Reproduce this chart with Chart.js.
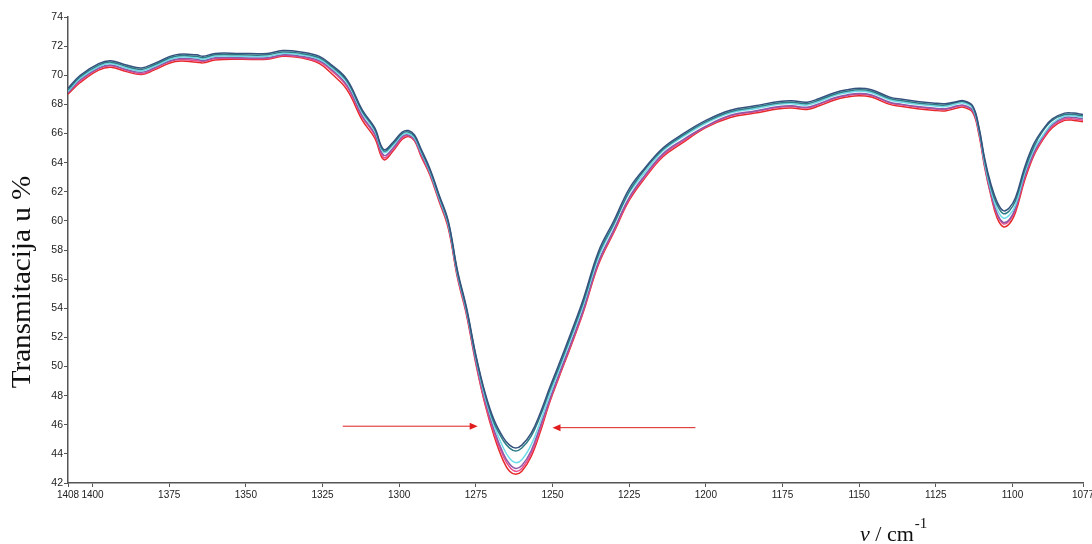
<!DOCTYPE html>
<html>
<head>
<meta charset="utf-8">
<script src="https://cdn.jsdelivr.net/npm/chart.js@4/dist/chart.umd.min.js"></script>
<style>
  html, body { margin: 0; padding: 0; background: #fff; }
  #wrap { width: 1092px; height: 544px; position: relative; }
</style>
</head>
<body>
<div id="wrap"><canvas id="irChart"></canvas></div>
<script>
// wavenumbers (cm-1)
const wavenumbers = [
  1408, 1404, 1398, 1394, 1389, 1384, 1380, 1373, 1366, 1364,
  1360, 1352, 1343, 1338, 1332, 1326, 1322, 1317, 1312, 1308,
  1305, 1302, 1299, 1297, 1295, 1293, 1290, 1287, 1284, 1281,
  1278, 1275, 1272, 1269, 1266, 1264, 1262, 1260, 1257, 1254,
  1251, 1248, 1244, 1240, 1235, 1230, 1225, 1220, 1214, 1208,
  1200, 1192, 1184, 1176, 1172, 1167, 1163, 1158, 1154, 1150,
  1146, 1140, 1136, 1131, 1126, 1122, 1118, 1116, 1113, 1111,
  1109, 1107, 1105, 1103, 1101, 1099, 1096, 1093, 1090, 1087,
  1083, 1080, 1077
];

// transmittance (%) per spectrum
const navySeries = [
  69.1, 70.0, 70.8, 71.0, 70.7, 70.5, 70.8, 71.4, 71.4, 71.3,
  71.5, 71.5, 71.5, 71.7, 71.6, 71.3, 70.7, 69.7, 67.6, 66.4,
  64.9, 65.4, 66.1, 66.2, 65.9, 65.0, 63.6, 61.8, 60.0, 56.6,
  54.0, 50.8, 48.2, 46.3, 45.1, 44.6, 44.4, 44.6, 45.4, 46.8,
  48.5, 50.1, 52.3, 54.6, 57.9, 60.0, 62.2, 63.6, 65.0, 65.9,
  66.9, 67.6, 67.9, 68.2, 68.25, 68.15, 68.4, 68.8, 69.0, 69.1,
  69.0, 68.5, 68.35, 68.2, 68.1, 68.05, 68.2, 68.25, 67.9, 66.5,
  64.2, 62.5, 61.3, 60.7, 60.9, 61.6, 63.7, 65.3, 66.3, 67.0,
  67.4, 67.4, 67.3
];
const tealSeries = [
  69.0, 69.9, 70.7, 70.9, 70.6, 70.4, 70.7, 71.3, 71.3, 71.2,
  71.4, 71.4, 71.4, 71.6, 71.5, 71.2, 70.6, 69.6, 67.5, 66.3,
  64.8, 65.3, 66.0, 66.1, 65.8, 64.9, 63.5, 61.7, 59.9, 56.5,
  53.9, 50.7, 48.1, 46.1, 44.9, 44.4, 44.2, 44.4, 45.2, 46.6,
  48.3, 49.9, 52.1, 54.4, 57.7, 59.8, 62.0, 63.5, 64.9, 65.8,
  66.8, 67.5, 67.8, 68.1, 68.15, 68.05, 68.3, 68.7, 68.9, 69.0,
  68.9, 68.4, 68.25, 68.1, 68.0, 67.95, 68.15, 68.2, 67.85, 66.4,
  64.1, 62.3, 61.1, 60.5, 60.7, 61.4, 63.5, 65.1, 66.2, 66.9,
  67.3, 67.3, 67.2
];
const cyanSeries = [
  68.9, 69.8, 70.6, 70.8, 70.5, 70.3, 70.6, 71.2, 71.2, 71.1,
  71.3, 71.3, 71.3, 71.5, 71.4, 71.1, 70.5, 69.5, 67.4, 66.2,
  64.7, 65.2, 65.9, 66.0, 65.7, 64.8, 63.4, 61.6, 59.8, 56.4,
  53.8, 50.6, 47.9, 45.9, 44.4, 43.7, 43.4, 43.6, 44.6, 46.2,
  48.0, 49.7, 51.9, 54.2, 57.5, 59.7, 61.9, 63.3, 64.8, 65.7,
  66.7, 67.4, 67.7, 68.0, 68.05, 67.95, 68.2, 68.6, 68.8, 68.9,
  68.8, 68.3, 68.15, 68.0, 67.9, 67.85, 68.05, 68.1, 67.75, 66.3,
  63.9, 62.1, 60.8, 60.2, 60.4, 61.1, 63.3, 64.9, 65.9, 66.7,
  67.2, 67.2, 67.1
];
const purpleSeries = [
  68.8, 69.7, 70.5, 70.7, 70.4, 70.2, 70.5, 71.1, 71.1, 71.0,
  71.2, 71.2, 71.2, 71.4, 71.3, 71.0, 70.4, 69.3, 67.2, 66.0,
  64.5, 65.0, 65.8, 65.9, 65.6, 64.7, 63.3, 61.5, 59.7, 56.3,
  53.7, 50.4, 47.7, 45.6, 44.0, 43.3, 43.0, 43.2, 44.2, 45.9,
  47.7, 49.4, 51.6, 53.9, 57.2, 59.4, 61.6, 63.1, 64.6, 65.5,
  66.5, 67.25, 67.55, 67.85, 67.9, 67.8, 68.05, 68.45, 68.65, 68.75,
  68.65, 68.15, 68.0, 67.85, 67.75, 67.7, 67.9, 67.95, 67.6, 66.2,
  63.8, 61.9, 60.5, 59.9, 60.1, 60.9, 63.1, 64.7, 65.8, 66.6,
  67.1, 67.1, 67.0
];
const pinkSeries = [
  68.8, 69.6, 70.45, 70.65, 70.35, 70.1, 70.45, 71.05, 71.0, 70.95,
  71.15, 71.15, 71.15, 71.35, 71.25, 70.9, 70.3, 69.2, 67.1, 65.9,
  64.35, 64.9, 65.7, 65.85, 65.55, 64.6, 63.25, 61.45, 59.65, 56.2,
  53.6, 50.3, 47.5, 45.4, 43.8, 43.1, 42.8, 43.0, 44.0, 45.7,
  47.6, 49.3, 51.5, 53.8, 57.1, 59.3, 61.5, 63.0, 64.5, 65.4,
  66.45, 67.2, 67.5, 67.8, 67.85, 67.75, 68.0, 68.4, 68.6, 68.7,
  68.6, 68.1, 67.95, 67.8, 67.7, 67.65, 67.85, 67.9, 67.55, 66.1,
  63.7, 61.8, 60.4, 59.8, 60.0, 60.8, 63.0, 64.6, 65.7, 66.5,
  67.0, 67.0, 66.9
];
const redSeries = [
  68.7, 69.5, 70.35, 70.55, 70.25, 70.05, 70.35, 70.95, 70.9, 70.85,
  71.05, 71.1, 71.1, 71.3, 71.2, 70.8, 70.1, 69.0, 66.9, 65.7,
  64.2, 64.8, 65.6, 65.8, 65.5, 64.5, 63.15, 61.35, 59.5, 56.1,
  53.5, 50.2, 47.4, 45.2, 43.5, 42.8, 42.6, 42.8, 43.8, 45.5,
  47.5, 49.2, 51.4, 53.7, 57.0, 59.2, 61.4, 62.9, 64.4, 65.3,
  66.4, 67.1, 67.4, 67.7, 67.75, 67.65, 67.9, 68.3, 68.5, 68.6,
  68.5, 68.0, 67.85, 67.7, 67.6, 67.55, 67.75, 67.8, 67.45, 66.0,
  63.6, 61.7, 60.2, 59.6, 59.8, 60.6, 62.8, 64.5, 65.6, 66.4,
  66.9, 66.9, 66.8
];

const xTicks = [1408, 1400, 1375, 1350, 1325, 1300, 1275, 1250, 1225, 1200, 1175, 1150, 1125, 1100, 1077];
const yTicks = [42, 44, 46, 48, 50, 52, 54, 56, 58, 60, 62, 64, 66, 68, 70, 72, 74];

// red arrows pointing at the band minimum: [fromX, toX, y] in data units
const arrows = [
  [1318.4, 1274.4, 45.9],
  [1203.4, 1250.0, 45.8]
];

const toPoints = arr => wavenumbers.map((w, i) => ({ x: w, y: arr[i] }));

const lineSet = (data, color) => ({
  data: toPoints(data),
  borderColor: color,
  borderWidth: 1.5,
  pointRadius: 0,
  fill: false,
  tension: 0.4
});

const overlay = {
  id: 'overlay',
  afterDraw(chart) {
    const c = chart.ctx;
    const xs = chart.scales.x, ys = chart.scales.y;
    c.save();
    // arrows
    c.strokeStyle = '#e01e1e';
    c.fillStyle = '#e01e1e';
    c.lineWidth = 1;
    arrows.forEach(a => {
      const x1 = xs.getPixelForValue(a[0]);
      const x2 = xs.getPixelForValue(a[1]);
      const y = ys.getPixelForValue(a[2]);
      const dir = x2 > x1 ? 1 : -1;
      c.beginPath();
      c.moveTo(x1, y);
      c.lineTo(x2 - dir * 7, y);
      c.stroke();
      c.beginPath();
      c.moveTo(x2, y);
      c.lineTo(x2 - dir * 8, y - 3.5);
      c.lineTo(x2 - dir * 8, y + 3.5);
      c.closePath();
      c.fill();
    });
    // axis titles
    c.fillStyle = '#111';
    c.font = '27px "Liberation Serif", "Times New Roman", serif';
    c.textAlign = 'center';
    c.textBaseline = 'middle';
    c.translate(23, 282);
    c.rotate(-Math.PI / 2);
    c.scale(1.08, 1);
    c.fillText('Transmitacija u %', 0, 0);
    c.setTransform(1, 0, 0, 1, 0, 0);
    c.textAlign = 'left';
    c.textBaseline = 'alphabetic';
    c.font = 'italic 22px "Liberation Serif", "Times New Roman", serif';
    c.fillText('ν', 860, 541);
    const vw = c.measureText('ν').width;
    c.font = '22px "Liberation Serif", "Times New Roman", serif';
    c.fillText(' / cm', 860 + vw, 541);
    const cw = c.measureText(' / cm').width;
    c.font = '15px "Liberation Serif", "Times New Roman", serif';
    c.fillText('-1', 860 + vw + cw + 1, 528);
    c.restore();
  }
};

new Chart(document.getElementById('irChart'), {
  type: 'line',
  data: {
    datasets: [
      lineSet(navySeries, '#35527e'),
      lineSet(tealSeries, '#2d7d86'),
      lineSet(cyanSeries, '#6fdbe9'),
      lineSet(purpleSeries, '#8c5aa6'),
      lineSet(pinkSeries, '#ea4c8c'),
      lineSet(redSeries, '#e62a2a')
    ]
  },
  options: {
    responsive: true,
    maintainAspectRatio: false,
    animation: false,
    layout: { padding: { top: 17, right: 9, left: 0, bottom: 0 } },
    plugins: { legend: { display: false }, tooltip: { enabled: false } },
    scales: {
      x: {
        type: 'linear',
        reverse: true,
        min: 1077,
        max: 1408,
        afterBuildTicks: s => { s.ticks = xTicks.map(v => ({ value: v })); },
        afterFit: s => { s.height = 61; s.paddingLeft = 0; s.paddingRight = 0; },
        grid: { drawOnChartArea: false, tickLength: 4, color: '#555' },
        border: { color: '#555', width: 1.5 },
        ticks: {
          color: '#222',
          font: { family: '"Liberation Sans", Arial, sans-serif', size: 10 },
          padding: 2,
          maxRotation: 0,
          autoSkip: false,
          callback: v => String(v)
        }
      },
      y: {
        min: 42,
        max: 74,
        afterBuildTicks: s => { s.ticks = yTicks.map(v => ({ value: v })); },
        afterFit: s => { s.width = 68; s.paddingTop = 0; s.paddingBottom = 0; },
        grid: { drawOnChartArea: false, tickLength: 4, color: '#555' },
        border: { color: '#555', width: 1.5 },
        ticks: {
          color: '#222',
          font: { family: '"Liberation Sans", Arial, sans-serif', size: 10.5 },
          padding: 1
        }
      }
    }
  },
  plugins: [overlay]
});
</script>
</body>
</html>
